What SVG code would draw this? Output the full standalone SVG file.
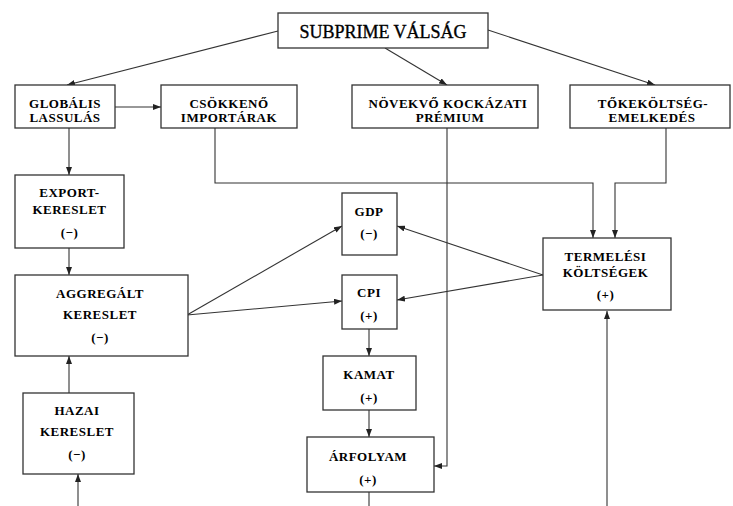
<svg xmlns="http://www.w3.org/2000/svg" width="733" height="506" viewBox="0 0 733 506">
<defs>
<marker id="ah" markerUnits="userSpaceOnUse" markerWidth="8" markerHeight="6" refX="8" refY="3" orient="auto">
<path d="M0,0 L8,3 L0,6 z" fill="#222"/>
</marker>
<style>
.box{fill:#fff;stroke:#333;stroke-width:1.3}
.t{font-family:"Liberation Serif","Times New Roman",serif;font-weight:bold;font-size:13px;letter-spacing:0.5px;fill:#000;text-anchor:middle}
.big{font-family:"Liberation Serif","Times New Roman",serif;font-size:18px;fill:#000;stroke:#000;stroke-width:0.35;text-anchor:middle}
.c{fill:none;stroke:#333;stroke-width:1.1}
.a{marker-end:url(#ah)}
</style>
</defs>
<rect width="733" height="506" fill="#fff"/>
<g id="connectors">
<path class="c a" d="M278,31 L67,85"/>
<path class="c a" d="M385,48 L447,85"/>
<path class="c a" d="M488,30 L655,85"/>
<path class="c a" d="M115,107 L161,107"/>
<path class="c a" d="M69,128 L69,175"/>
<path class="c a" d="M69,248 L69,275"/>
<path class="c a" d="M69,393 L69,356"/>
<path class="c a" d="M78,506 L78,474"/>
<path class="c a" d="M187,315 L342,226"/>
<path class="c a" d="M187,315 L342,301"/>
<path class="c a" d="M543,275 L397,226"/>
<path class="c a" d="M543,275 L397,300"/>
<path class="c a" d="M215,128 V183 H593 V238"/>
<path class="c a" d="M666,128 V183 H615 V238"/>
<path class="c a" d="M447,128 V466 H434"/>
<path class="c a" d="M369,329 V356"/>
<path class="c a" d="M369,410 V437"/>
<path class="c" d="M369,492 V506"/>
<path class="c a" d="M607,506 V311"/>
</g>
<g id="subprime">
<rect class="box" x="278" y="13" width="210" height="35"/>
<text class="big" x="383" y="38">SUBPRIME VÁLSÁG</text>
</g>
<g id="globalis">
<rect class="box" x="15" y="85" width="100" height="43"/>
<text class="t" x="65" y="107.5">GLOBÁLIS</text>
<text class="t" x="65" y="121.5">LASSULÁS</text>
</g>
<g id="csokkeno">
<rect class="box" x="161" y="85" width="136" height="43"/>
<text class="t" x="229" y="107.5">CSÖKKENŐ</text>
<text class="t" x="229" y="121.5">IMPORTÁRAK</text>
</g>
<g id="novekvo">
<rect class="box" x="352" y="85" width="186" height="43"/>
<text class="t" x="448" y="107.5">NÖVEKVŐ KOCKÁZATI</text>
<text class="t" x="450" y="121.5">PRÉMIUM</text>
</g>
<g id="tokekoltseg">
<rect class="box" x="570" y="85" width="160" height="43"/>
<text class="t" x="653" y="107.5">TŐKEKÖLTSÉG-</text>
<text class="t" x="652" y="121.5">EMELKEDÉS</text>
</g>
<g id="export">
<rect class="box" x="15" y="175" width="109" height="73"/>
<text class="t" x="69.5" y="196.5">EXPORT-</text>
<text class="t" x="69.5" y="214">KERESLET</text>
<text class="t" x="69.5" y="236.5">(−)</text>
</g>
<g id="aggregalt">
<rect class="box" x="15" y="275" width="173" height="81"/>
<text class="t" x="100" y="297.5">AGGREGÁLT</text>
<text class="t" x="100" y="318.5">KERESLET</text>
<text class="t" x="100" y="341.5">(−)</text>
</g>
<g id="hazai">
<rect class="box" x="23" y="393" width="111" height="81"/>
<text class="t" x="77" y="415">HAZAI</text>
<text class="t" x="77" y="436">KERESLET</text>
<text class="t" x="77" y="459">(−)</text>
</g>
<g id="gdp">
<rect class="box" x="342" y="193" width="55" height="62"/>
<text class="t" x="369" y="216">GDP</text>
<text class="t" x="369" y="237.5">(−)</text>
</g>
<g id="cpi">
<rect class="box" x="342" y="275" width="55" height="54"/>
<text class="t" x="369" y="296.5">CPI</text>
<text class="t" x="369" y="319.5">(+)</text>
</g>
<g id="termelesi">
<rect class="box" x="543" y="238" width="128" height="72"/>
<text class="t" x="605.5" y="260.5">TERMELÉSI</text>
<text class="t" x="605.5" y="276.5">KÖLTSÉGEK</text>
<text class="t" x="605.5" y="298.5">(+)</text>
</g>
<g id="kamat">
<rect class="box" x="323" y="356" width="93" height="54"/>
<text class="t" x="369" y="379">KAMAT</text>
<text class="t" x="369" y="401.5">(+)</text>
</g>
<g id="arfolyam">
<rect class="box" x="307" y="437" width="127" height="55"/>
<text class="t" x="368" y="460.5">ÁRFOLYAM</text>
<text class="t" x="368" y="483.5">(+)</text>
</g>
</svg>
